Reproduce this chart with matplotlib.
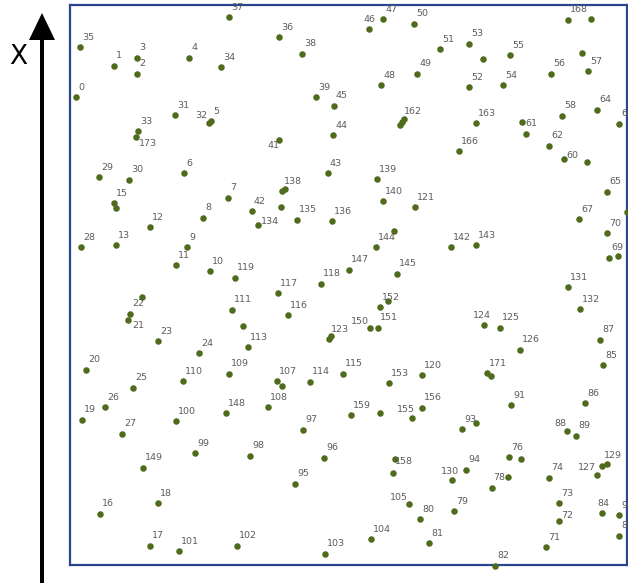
import matplotlib
matplotlib.use("Agg")
import matplotlib.pyplot as plt
from matplotlib.patches import FancyArrow

# point labels and positions (y grows downward)
labels = [
    "0", "1", "2", "3", "4", "5", "6", "7", "8", "9", "10", "11", "12", "13",
    "15", "", "16", "17", "18", "19", "20", "21", "22", "", "23", "24", "25",
    "26", "27", "28", "29", "30", "31", "32", "33", "34", "35", "36", "37",
    "38", "39", "41", "42", "43", "44", "45", "46", "47", "48", "49", "50",
    "51", "52", "53", "", "54", "55", "56", "57", "", "58", "60", "", "61", "",
    "62", "63", "64", "65", "", "67", "69", "", "70", "71", "72", "73", "74",
    "76", "", "78", "", "79", "80", "81", "82", "83", "84", "85", "86", "87",
    "88", "89", "90", "91", "93", "", "94", "95", "96", "97", "98", "99",
    "100", "101", "102", "103", "104", "105", "107", "", "108", "109", "110",
    "111", "", "113", "114", "115", "116", "117", "118", "119", "120", "121",
    "123", "", "124", "125", "126", "127", "129", "", "130", "131", "132",
    "134", "135", "136", "138", "", "", "139", "140", "142", "143", "144", "",
    "145", "147", "148", "149", "150", "151", "152", "", "153", "155", "156",
    "158", "", "159", "", "162", "", "", "163", "166", "168", "", "171", "",
    "173",
]
x_vals = [
    76, 114, 137, 137, 189, 211, 184, 228, 203, 187, 210, 176, 150, 116,
    114, 116, 100, 150, 158, 82, 86, 128, 130, 142, 158, 199, 133,
    105, 122, 81, 99, 129, 175, 209, 138, 221, 80, 279, 229,
    302, 316, 279, 252, 328, 333, 334, 369, 383, 381, 417, 414,
    440, 469, 469, 483, 503, 510, 551, 588, 582, 562, 564, 587, 522, 526,
    549, 619, 597, 607, 627, 579, 609, 618, 607, 546, 559, 559, 549,
    509, 521, 508, 492, 454, 420, 429, 495, 619, 602, 603, 585, 600,
    567, 576, 619, 511, 462, 476, 466, 295, 324, 303, 250, 195,
    176, 179, 237, 325, 371, 409, 277, 282, 268, 229, 183,
    232, 243, 248, 310, 343, 288, 278, 321, 235, 422, 415,
    329, 331, 484, 500, 520, 597, 602, 607, 452, 568, 580,
    258, 297, 332, 282, 285, 281, 377, 383, 451, 476, 376, 394,
    397, 349, 226, 143, 370, 378, 380, 388, 389, 412, 422,
    395, 393, 351, 380, 402, 404, 400, 476, 459, 568, 591, 487, 491,
    136,
]
y_vals = [
    97, 66, 74, 58, 58, 121, 173, 198, 218, 247, 271, 265, 227, 245,
    203, 208, 514, 546, 503, 420, 370, 320, 314, 297, 341, 353, 388,
    407, 434, 247, 177, 180, 115, 123, 131, 67, 47, 37, 17,
    54, 97, 140, 211, 173, 135, 106, 29, 19, 85, 74, 24,
    49, 87, 44, 59, 85, 55, 74, 71, 53, 116, 159, 162, 122, 134,
    146, 124, 110, 192, 212, 219, 258, 256, 233, 547, 521, 503, 478,
    457, 459, 477, 488, 511, 519, 543, 566, 536, 513, 365, 403, 340,
    431, 436, 515, 405, 429, 423, 470, 484, 458, 430, 456, 453,
    421, 551, 546, 554, 539, 504, 381, 386, 407, 374, 381,
    310, 326, 347, 382, 374, 315, 293, 284, 278, 375, 207,
    339, 336, 325, 328, 350, 475, 466, 464, 480, 287, 309,
    225, 220, 221, 191, 189, 207, 179, 201, 247, 245, 247, 231,
    274, 270, 413, 468, 328, 328, 307, 301, 383, 418, 408,
    459, 473, 415, 413, 122, 119, 125, 123, 151, 20, 19, 373, 376,
    137,
]

# labels that do not sit up-right of their dot: offset of the label centre
label_shift = {
    "32": (-8, -7), "173": (12, 6), "41": (-5, 5), "61": (9, 2),
    "60": (8, -4), "134": (12, -4), "150": (-10, -7), "21": (10, 6),
    "155": (-6, -8), "124": (-2, -9), "88": (-7, -8), "158": (9, 2),
    "105": (-10, -7), "130": (-2, -8), "78": (-9, 0), "127": (-10, -7),
    "72": (8, -5), "46": (0, -9), "84": (1, -10),
}

dot_color = "#4f6b1c"
text_color = "#5c5c5c"
frame_color = "#2b4590"

fig = plt.figure(figsize=(6.28, 5.83), dpi=100)

# overlay in pixel units for the arrow and the "X"
ov = fig.add_axes([0, 0, 1, 1], zorder=0)
ov.set_xlim(0, 628)
ov.set_ylim(583, 0)
ov.axis("off")
ov.add_patch(FancyArrow(42, 583, 0, -570, width=4, head_width=26,
                        head_length=27, length_includes_head=True,
                        color="black", lw=0))
ov.text(18, 57, "X", fontsize=19, ha="center", va="center", color="black")

ax = fig.add_axes([70 / 628, 18 / 583, 557 / 628, 560 / 583], zorder=1)
ax.patch.set_alpha(0)
ax.set_xlim(70, 627)
ax.set_ylim(565, 5)
ax.set_xticks([])
ax.set_yticks([])
for sp in ax.spines.values():
    sp.set_color(frame_color)
    sp.set_linewidth(1.6)

ax.scatter(x_vals, y_vals, s=22, color=dot_color, linewidths=0,
           clip_on=False, zorder=3)

for lab, x, y in zip(labels, x_vals, y_vals):
    if not lab:
        continue
    if lab in label_shift:
        dx, dy = label_shift[lab]
        ax.text(x + dx, y + dy, lab, fontsize=6.8, color=text_color,
                ha="center", va="center", clip_on=False, zorder=4)
    else:
        ax.text(x + 2, y - 10, lab, fontsize=6.8, color=text_color,
                ha="left", va="center", clip_on=False, zorder=4)

fig.savefig("out.png", dpi=100)
